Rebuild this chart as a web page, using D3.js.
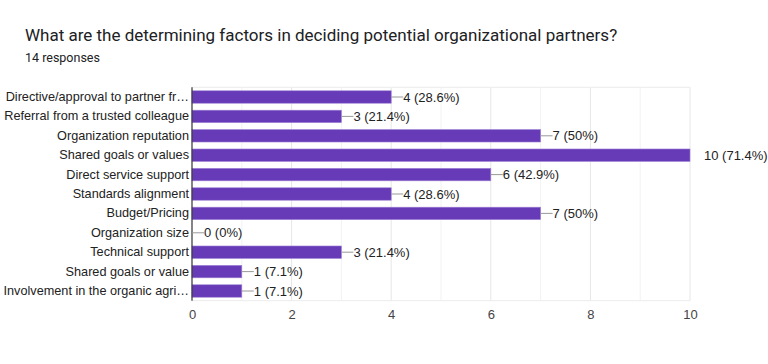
<!DOCTYPE html>
<html><head><meta charset="utf-8">
<script src="https://cdn.jsdelivr.net/npm/d3@7"></script>
<style>body{margin:0;background:#fff}svg{display:block}</style>
</head><body>
<svg id="c" width="768" height="364"></svg>
<script>
const categories = ["Directive/approval to partner fr…","Referral from a trusted colleague","Organization reputation","Shared goals or values","Direct service support","Standards alignment","Budget/Pricing","Organization size","Technical support","Shared goals or value","Involvement in the organic agri…"];
const counts = [4,3,7,10,6,4,7,0,3,1,1];
const percents = ["28.6%","21.4%","50%","71.4%","42.9%","28.6%","50%","0%","21.4%","7.1%","7.1%"];
const ticks = [0,2,4,6,8,10];
const minorTicks = [1,3,5,7,9];

const svg = d3.select("#c");
const font = "Arial, 'Liberation Sans', sans-serif";
const L = 192, R = 690, T = 87.3, B = 300.7;
const x = d3.scaleLinear().domain([0,10]).range([L,R]);
const y = d3.scaleBand().domain(categories).range([T,B]).paddingInner(0.36).paddingOuter(0.18);

svg.append("text").attr("x",25).attr("y",41).attr("font-family","Roboto, Arial, sans-serif").attr("font-size",17).attr("fill","#202124").text("What are the determining factors in deciding potential organizational partners?");
svg.append("text").attr("x",25).attr("y",62).attr("font-family","Roboto, Arial, sans-serif").attr("font-size",12.5).attr("fill","#202124").text("14 responses");

const g = svg.append("g");
g.selectAll(".minor").data(minorTicks).join("line").attr("x1",d=>x(d)).attr("x2",d=>x(d)).attr("y1",T).attr("y2",B).attr("stroke","#f2f2f2");
g.selectAll(".major").data(ticks.slice(1)).join("line").attr("x1",d=>x(d)).attr("x2",d=>x(d)).attr("y1",T).attr("y2",B).attr("stroke","#e6e6e6");
g.append("line").attr("x1",L).attr("x2",R).attr("y1",T).attr("y2",T).attr("stroke","#ececec");
g.append("line").attr("x1",L).attr("x2",R).attr("y1",B).attr("y2",B).attr("stroke","#ececec");

const xAxis = d3.axisBottom(x).tickValues(ticks).tickSize(0).tickPadding(9);
const ax = g.append("g").attr("transform",`translate(0,${B})`).call(xAxis);
ax.select(".domain").remove();
ax.selectAll("text").attr("font-family",font).attr("font-size",13).attr("fill","#444");

g.selectAll(".bar").data(categories).join("rect")
  .attr("x",L).attr("y",d=>y(d)).attr("width",(d,i)=>x(counts[i])-L).attr("height",y.bandwidth())
  .attr("fill","#673ab7").attr("stroke","#9b7fd4").attr("stroke-width",0.6)
  .attr("display",(d,i)=>counts[i]>0?null:"none");

g.append("line").attr("x1",L).attr("x2",L).attr("y1",T).attr("y2",B).attr("stroke","#333").attr("stroke-width",1.2);

const yAxis = d3.axisLeft(y).tickSize(0).tickPadding(3);
const ay = g.append("g").attr("transform",`translate(${L},0)`).call(yAxis);
ay.select(".domain").remove();
ay.selectAll("text").attr("font-family",font).attr("font-size",12.7).attr("fill","#222");

categories.forEach((c,i)=>{
  const cy = y(c)+y.bandwidth()/2;
  const xe = x(counts[i]);
  if (counts[i] < 10) {
    g.append("line").attr("x1",xe).attr("x2",xe+12).attr("y1",cy).attr("y2",cy).attr("stroke","#999");
    g.append("text").attr("x",xe+12).attr("y",cy).attr("dy","0.35em").attr("font-family",font).attr("font-size",13).attr("fill","#222").text(`${counts[i]} (${percents[i]})`);
  } else {
    g.append("text").attr("x",xe+14).attr("y",cy).attr("dy","0.35em").attr("font-family",font).attr("font-size",13).attr("fill","#222").text(`${counts[i]} (${percents[i]})`);
  }
});
</script>
</body></html>
